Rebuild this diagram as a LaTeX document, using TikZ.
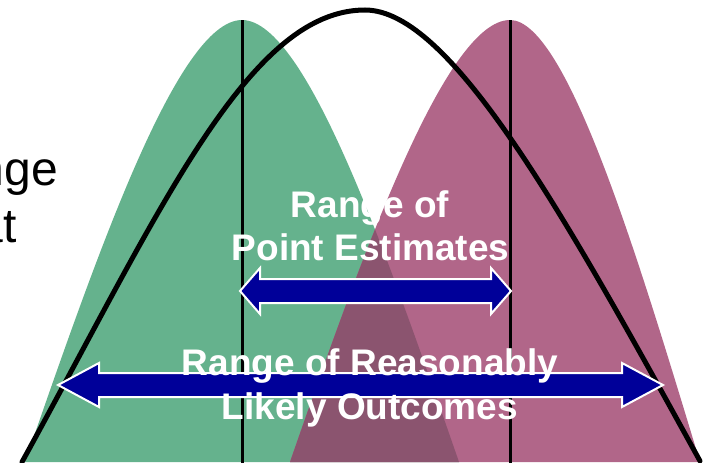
\documentclass[tikz,border=0pt]{standalone}
\usepackage{fontspec}
\setmainfont{Liberation Sans}
\definecolor{gfill}{RGB}{101,178,141}
\definecolor{pfill}{RGB}{177,102,137}
\definecolor{ofill}{RGB}{139,84,111}
\definecolor{abl}{RGB}{0,0,153}
\tikzset{
  blockarrow/.style={fill=abl, draw=white, line width=2pt, line join=miter},
  peakline/.style={black, line width=3pt},
  bigcurve/.style={black, line width=5pt, line cap=round},
  whitelabel/.style={text=white, font=\bfseries\fontsize{37}{44}\selectfont, anchor=base, inner sep=0pt},
  sidelabel/.style={text=black, font=\fontsize{48}{57}\selectfont, anchor=base east, inner sep=0pt}
}
\begin{document}
\begin{tikzpicture}[x=1pt,y=-1pt]
\useasboundingbox (0,0) rectangle (710,463);
\begin{scope}
\clip (0,0) rectangle (710,463);
% side text (cut off at the left edge)
\node[sidelabel] (s1) at (58,185) {Range};
\node[sidelabel] (s2) at (17,242) {that};
% green distribution
\fill[gfill] (25,462) .. controls (95,261) and (177,20) .. (242,20)
  .. controls (307,20) and (389,261) .. (459,462) -- cycle;
% purple distribution
\fill[pfill] (290,462) .. controls (360,261) and (445,20) .. (510,20)
  .. controls (567,20) and (639,261) .. (700,462) -- cycle;
% overlap
\begin{scope}
\clip (25,462) .. controls (95,261) and (177,20) .. (242,20)
  .. controls (307,20) and (389,261) .. (459,462) -- cycle;
\fill[ofill] (290,462) .. controls (360,261) and (445,20) .. (510,20)
  .. controls (567,20) and (639,261) .. (700,462) -- cycle;
\end{scope}
% point estimate lines
\coordinate (gtop) at (242,20);
\coordinate (gbot) at (242,463);
\coordinate (ptop) at (510,20);
\coordinate (pbot) at (510,463);
\draw[peakline] (gtop) -- (gbot);
\draw[peakline] (ptop) -- (pbot);
% wide black curve
\coordinate (cl) at (22,462);
\coordinate (cm) at (365,10);
\coordinate (cr) at (700,461);
\draw[bigcurve] (cl) .. controls (159.5,212) and (248,10) .. (cm)
  .. controls (450,10) and (562.5,211) .. (cr);
% arrows
\draw[blockarrow] (240,291) -- (260,268) -- (260,279) -- (491,279) -- (491,268) -- (511,291) -- (491,314) -- (491,303) -- (260,303) -- (260,314) -- cycle;
\draw[blockarrow] (58,385) -- (99,363) -- (99,373) -- (622,373) -- (622,363) -- (663,385) -- (622,407) -- (622,397) -- (99,397) -- (99,407) -- cycle;
% labels
\node[whitelabel] (t1) at (370,217) {Range of};
\node[whitelabel] (t2) at (370.5,260) {Point Estimates};
\node[whitelabel] (t3) at (370,375) {Range of Reasonably};
\node[whitelabel] (t4) at (370,419) {Likely Outcomes};
\end{scope}
\end{tikzpicture}
\end{document}
